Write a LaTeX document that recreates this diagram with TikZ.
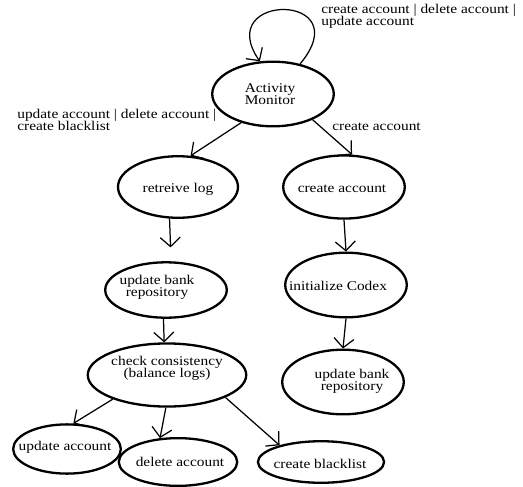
\documentclass[tikz,border=0pt]{standalone}
\usepackage{fontspec}
\setmainfont{Liberation Serif}[FakeStretch=1.15]
\usetikzlibrary{arrows.meta,shapes.geometric}

\begin{document}
\begin{tikzpicture}[x=0.65pt,y=-0.65pt,>={Straight Barb[length=6pt,width=13pt]},
  state/.style={draw,ellipse,line width=1.5pt,inner sep=0pt},
  note/.style={font={\fontsize{8.7}{8}\selectfont},align=center,inner sep=0pt},
  flow/.style={->,line width=0.8pt}]
  \useasboundingbox (0,0) rectangle (523,486);

  % states, left branch
  \node[state,minimum width=79pt,minimum height=42pt] (mon) at (273,94) {};
  \node[note] (monT) at (270,94) {Activity\\Monitor};
  \node[state,minimum width=78pt,minimum height=40pt] (log) at (178,187) {};
  \node[note] (logT) at (178,189) {retreive log};
  \node[state,minimum width=79pt,minimum height=36pt] (bankL) at (166,290) {};
  \node[note] (bankLT) at (157,287) {update bank\\repository};
  \node[state,minimum width=103pt,minimum height=41pt] (check) at (167,375) {};
  \node[note] (checkT) at (167,368) {check consistency\\(balance logs)};
  \node[state,minimum width=70pt,minimum height=32pt] (upd) at (67,449) {};
  \node[note] (updT) at (65,447) {update account};
  \node[state,minimum width=77pt,minimum height=31pt] (del) at (178,462) {};
  \node[note] (delT) at (180,462) {delete account};
  \node[state,minimum width=82pt,minimum height=27pt] (black) at (321,462) {};
  \node[note] (blackT) at (320,464) {create blacklist};

  % states, right branch
  \node[state,minimum width=79pt,minimum height=41pt] (create) at (344,187) {};
  \node[note] (createT) at (342,189) {create account};
  \node[state,minimum width=79pt,minimum height=42pt] (codex) at (346,285) {};
  \node[note] (codexT) at (338,286) {initialize Codex};
  \node[state,minimum width=79pt,minimum height=42pt] (bankR) at (343,382) {};
  \node[note] (bankRT) at (352,381) {update bank\\repository};

  % transitions
  \draw[flow] (mon.48) .. controls (360,-8) and (212,-8) .. (mon.112);
  \foreach \a/\b in {mon.222/log.68,mon.327/create.76,bankL.265/check.95,
    check.204/upd.76,check.268/del.127,check.339/black.158,
    create.south/codex.north,codex.south/bankR.north}
    {\draw[flow] (\a) -- (\b);}
  \draw[flow,shorten >=9pt] (log.255) -- (bankL.80);

  % event labels
  \node[note,align=left,anchor=west] (loopL) at (321,16)
    {create account | delete account |\\update account};
  \node[note,align=left,anchor=west] (leftL) at (17,120)
    {update account | delete account |\\create blacklist};
  \node[note,anchor=west] (rightL) at (332,127) {create account};

\end{tikzpicture}
\end{document}
